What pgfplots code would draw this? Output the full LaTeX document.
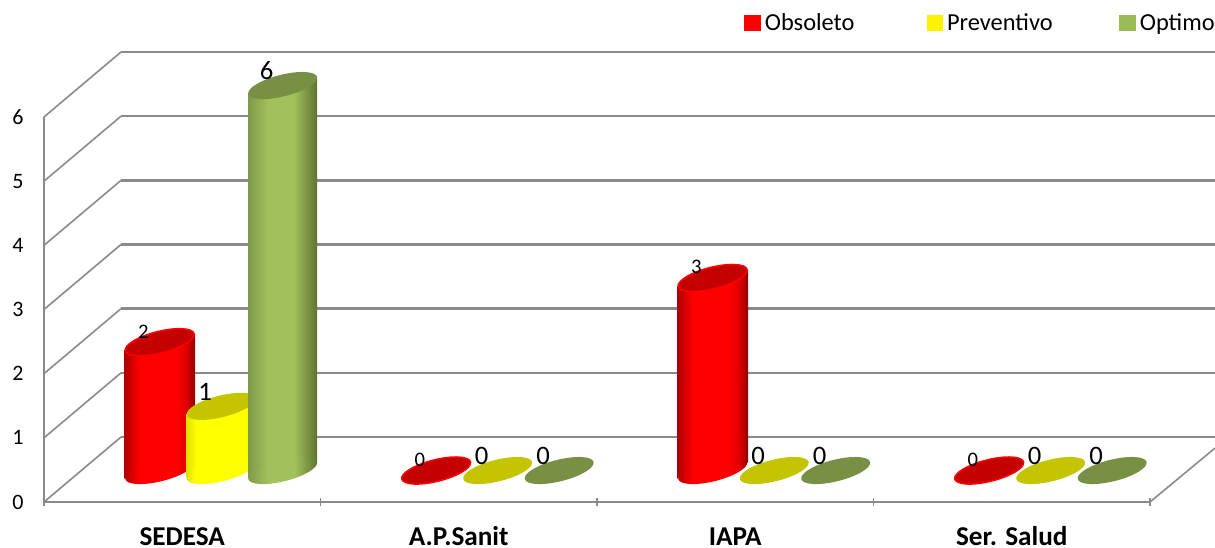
\documentclass[border=0pt]{standalone}
\usepackage{fontspec}
\setmainfont{Carlito}
\usepackage{pgfplots}
\pgfplotsset{compat=1.18}
\definecolor{gridg}{HTML}{8A8A8A}
\definecolor{redtop}{HTML}{C40000}
\definecolor{yeltop}{HTML}{C4C400}
\definecolor{grntop}{HTML}{789044}
\definecolor{grnleg}{HTML}{9BBB59}
\definecolor{grnmid}{HTML}{A2C15C}
\definecolor{grnl}{HTML}{7F9A4A}
\definecolor{grnr}{HTML}{5D7232}
\definecolor{redl}{HTML}{B00000}
\definecolor{redr}{HTML}{8C0000}
\definecolor{redq}{HTML}{DC0000}
\definecolor{yell}{HTML}{E0E000}
\definecolor{yelr}{HTML}{C8C800}
% the central 25bp..75bp of a shading is what is fitted to the path
\pgfdeclarehorizontalshading{cylred}{100bp}{color(0bp)=(redl); color(25bp)=(redl); color(36bp)=(red); color(61bp)=(red); color(69bp)=(redq); color(75bp)=(redr); color(100bp)=(redr)}
\pgfdeclarehorizontalshading{cylyel}{100bp}{color(0bp)=(yell); color(25bp)=(yell); color(32bp)=(yellow); color(68bp)=(yellow); color(75bp)=(yelr); color(100bp)=(yelr)}
\pgfdeclarehorizontalshading{cylgrn}{100bp}{color(0bp)=(grnl); color(25bp)=(grnl); color(40bp)=(grnmid); color(58bp)=(grnmid); color(75bp)=(grnr); color(100bp)=(grnr)}
% tilted ellipses: 1px = 0.75pt
\pgfdeclareplotmark{topR}{\pgfpathellipse{\pgfpointorigin}{\pgfqpoint{25.8pt}{6.44pt}}{\pgfqpoint{-1.96pt}{7.86pt}}\pgfusepathqfillstroke}
\pgfdeclareplotmark{topN}{\pgfpathellipse{\pgfpointorigin}{\pgfqpoint{25.8pt}{6.44pt}}{\pgfqpoint{-1.96pt}{7.86pt}}\pgfusepathqfill}
\pgfdeclareplotmark{baseR}{\pgfpathellipse{\pgfpointorigin}{\pgfqpoint{25.8pt}{6.44pt}}{\pgfqpoint{-1.96pt}{7.86pt}}\pgfshadepath{cylred}{0}\pgfusepath{discard}}
\pgfdeclareplotmark{baseY}{\pgfpathellipse{\pgfpointorigin}{\pgfqpoint{25.8pt}{6.44pt}}{\pgfqpoint{-1.96pt}{7.86pt}}\pgfshadepath{cylyel}{0}\pgfusepath{discard}}
\pgfdeclareplotmark{baseG}{\pgfpathellipse{\pgfpointorigin}{\pgfqpoint{25.8pt}{6.44pt}}{\pgfqpoint{-1.96pt}{7.86pt}}\pgfshadepath{cylgrn}{0}\pgfusepath{discard}}
\pgfplotsset{
  lab/.style={nodes near coords, nodes near coords style={anchor=center, text=black, font=\fontsize{#1}{#1}\selectfont, inner sep=0pt}},
  wall/.style={gridg, line width=1.8pt, forget plot, no marks},
  side/.style={gridg, line width=1.2pt, forget plot, no marks},
  dataaxis/.style={
    at={(29.2pt,23.6pt)}, anchor=south west, scale only axis,
    width=829.5pt, height=288.75pt,
    xmin=0, xmax=4, ymin=0, ymax=6, clip=false,
    hide axis,
    /pgf/number format/assume math mode=true,
  },
}
\begin{document}
\begin{tikzpicture}
\useasboundingbox (-33pt,-34.5pt) rectangle (878.25pt,376.5pt);
% frame axis: front edge of the floor and the left wall
\begin{axis}[
  at={(0pt,0pt)}, anchor=south west, scale only axis,
  width=829.5pt, height=288.75pt,
  xmin=0, xmax=4, ymin=0, ymax=6, clip=false,
  axis x line=bottom, axis y line=left,
  axis line style={-, gridg, line width=1.8pt},
  xtick={0.5,1.5,2.5,3.5},
  xticklabels={SEDESA,A.P.Sanit,IAPA,Ser. Salud},
  minor xtick={0,1,2,3,4},
  ytick={0,1,2,3,4,5,6},
  major tick length=0pt,
  minor tick length=6.5pt,
  tick style={gridg, line width=1pt},
  minor tick style={gridg, line width=1pt},
  x tick label style={font=\bfseries\fontsize{20.4}{21}\selectfont, anchor=base, yshift=-32.6pt},
  y tick label style={font=\fontsize{16.5}{17}\selectfont, anchor=center, xshift=-19.5pt},
  /pgf/number format/assume math mode=true,
]
\addplot[side] coordinates {(0,0) (0.2785,1.0125)};
\addplot[wall] coordinates {(0.2785,1.0125) (4.235,1.0125)};
\addplot[side] coordinates {(0,1) (0.2785,2.0125)};
\addplot[wall] coordinates {(0.2785,2.0125) (4.235,2.0125)};
\addplot[side] coordinates {(0,2) (0.2785,3.0125)};
\addplot[wall] coordinates {(0.2785,3.0125) (4.235,3.0125)};
\addplot[side] coordinates {(0,3) (0.2785,4.0125)};
\addplot[wall] coordinates {(0.2785,4.0125) (4.235,4.0125)};
\addplot[side] coordinates {(0,4) (0.2785,5.0125)};
\addplot[wall] coordinates {(0.2785,5.0125) (4.235,5.0125)};
\addplot[side] coordinates {(0,5) (0.2785,6.0125)};
\addplot[wall] coordinates {(0.2785,6.0125) (4.235,6.0125)};
\addplot[side] coordinates {(0,6) (0.2785,7.0125)};
\addplot[wall] coordinates {(0.2785,7.0125) (4.235,7.0125)};
\addplot[side] coordinates {(4,0) (4.235,0.84)};
\end{axis}
% Obsoleto, on the plane half way into the depth of the floor
\begin{axis}[dataaxis,
  legend columns=3,
  legend cell align=left,
  legend style={at={(0.598,1.163)}, anchor=west, draw=none, fill=none, inner sep=0pt, outer sep=0pt,
    font=\fontsize{18.3}{18.3}\selectfont, nodes={inner sep=0pt, outer sep=0pt}},
  legend image code/.code={\fill[#1] (0pt,-5.6pt) rectangle (11.5pt,5.6pt);},
]
\addlegendimage{red}
\addlegendentry{\hspace*{3.5pt}Obsoleto\hspace*{54pt}}
\addlegendimage{yellow}
\addlegendentry{\hspace*{3.5pt}Preventivo\hspace*{50pt}}
\addlegendimage{grnleg}
\addlegendentry{\hspace*{3.5pt}Optimo}
\addplot[forget plot, shade, shading=cylred, draw=none, no marks] coordinates {(0.1492,-0.125) (0.1492,1.875) (0.4060,2.125) (0.4060,0.125)} -- cycle;
\addplot[forget plot, shade, shading=cylred, draw=none, no marks] coordinates {(2.1492,-0.125) (2.1492,2.875) (2.4060,3.125) (2.4060,0.125)} -- cycle;
\addplot[forget plot, only marks, mark=baseR] coordinates {(0.2776,0) (2.2776,0)};
\addplot[forget plot, only marks, mark=topR, mark options={fill=redtop, draw=red, line width=1.1pt},
  lab=15.5, nodes near coords style={xshift=-12.2pt, yshift=8pt}]
  coordinates {(0.2776,2) (1.2776,0) (2.2776,3) (3.2776,0)};
\end{axis}
% Preventivo
\begin{axis}[dataaxis]
\addplot[forget plot, shade, shading=cylyel, draw=none, no marks] coordinates {(0.375,-0.12) (0.375,0.88) (0.625,1.12) (0.625,0.12)} -- cycle;
\addplot[forget plot, only marks, mark=baseY] coordinates {(0.5,0)};
\addplot[forget plot, only marks, mark=topN, mark options={fill=yeltop, draw=none},
  lab=20, nodes near coords style={xshift=-12pt, yshift=11pt}]
  coordinates {(0.5,1) (1.5,0) (2.5,0) (3.5,0)};
\end{axis}
% Optimo
\begin{axis}[dataaxis]
\addplot[forget plot, shade, shading=cylgrn, draw=none, no marks] coordinates {(0.5974,-0.12) (0.5974,5.88) (0.8474,6.12) (0.8474,0.12)} -- cycle;
\addplot[forget plot, only marks, mark=baseG] coordinates {(0.7224,0)};
\addplot[forget plot, only marks, mark=topN, mark options={fill=grntop, draw=none},
  lab=20, nodes near coords style={xshift=-12pt, yshift=11pt}]
  coordinates {(0.7224,6) (1.7224,0) (2.7224,0) (3.7224,0)};
\end{axis}
\end{tikzpicture}
\end{document}
